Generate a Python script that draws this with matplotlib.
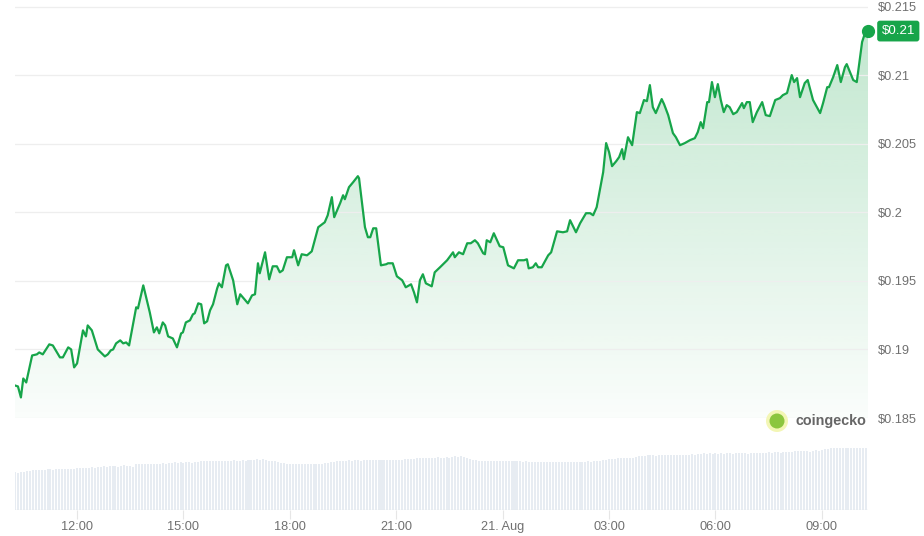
import numpy as np
import pandas as pd
import matplotlib
matplotlib.use("Agg")
import matplotlib.pyplot as plt
import matplotlib.dates as mdates
from matplotlib.patches import Ellipse

plt.rcParams['font.family'] = ['Liberation Sans', 'DejaVu Sans']

# ---------------- data ----------------
start_time = "2024-08-20 10:15"

price_minutes = [
    0, 5, 10, 14, 19, 29, 37, 41, 47, 58, 64, 76, 81, 90, 95, 100, 105, 115, 120, 123,
    130, 140, 152, 157, 162, 166, 171, 178, 183, 188, 193, 205, 208, 217, 223, 228, 235, 240, 244, 250,
    254, 259, 267, 274, 281, 284, 289, 296, 301, 304, 310, 315, 320, 325, 330, 335, 342, 345, 350, 357,
    360, 369, 376, 381, 394, 401, 406, 411, 414, 423, 430, 436, 443, 448, 453, 460, 469, 472, 479, 485,
    494, 502, 513, 524, 529, 536, 540, 550, 555, 558, 565, 572, 580, 582, 592, 597, 601, 606, 611, 619,
    628, 631, 639, 646, 655, 661, 670, 675, 680, 685, 690, 695, 705, 710, 719, 731, 741, 744, 751, 758,
    765, 771, 778, 783, 792, 795, 798, 804, 810, 820, 826, 834, 844, 851, 861, 866, 869, 876, 881, 885,
    891, 902, 907, 917, 927, 934, 939, 949, 956, 966, 973, 978, 984, 995, 1000, 1005, 1010, 1017, 1022, 1027,
    1030, 1037, 1044, 1052, 1057, 1064, 1069, 1074, 1079, 1084, 1094, 1098, 1105, 1113, 1118, 1125, 1133, 1142, 1150, 1155,
    1160, 1164, 1171, 1174, 1179, 1184, 1189, 1194, 1199, 1204, 1209, 1215, 1221, 1230, 1233, 1238, 1243, 1248, 1255, 1264,
    1270, 1277, 1286, 1294, 1299, 1306, 1314, 1318, 1323, 1328, 1336, 1341, 1350, 1362, 1367, 1374, 1377, 1384, 1391, 1397,
    1404, 1407, 1418, 1424, 1433, 1438, 1443,
]

prices = [
    0.18737, 0.18730, 0.18650, 0.18788, 0.18759, 0.18956, 0.18964, 0.18978, 0.18964, 0.19037,
    0.19029, 0.18942, 0.18942, 0.19015, 0.19000, 0.18869, 0.18898, 0.19139, 0.19095, 0.19175,
    0.19139, 0.19000, 0.18949, 0.18964, 0.18993, 0.19000, 0.19044, 0.19066, 0.19044, 0.19051,
    0.19029, 0.19307, 0.19299, 0.19467, 0.19358, 0.19270, 0.19124, 0.19161, 0.19117, 0.19197,
    0.19175, 0.19095, 0.19080, 0.19015, 0.19117, 0.19124, 0.19197, 0.19212, 0.19256, 0.19263,
    0.19336, 0.19329, 0.19190, 0.19205, 0.19285, 0.19329, 0.19445, 0.19482, 0.19453, 0.19613,
    0.19621, 0.19504, 0.19329, 0.19402, 0.19336, 0.19394, 0.19402, 0.19628, 0.19555, 0.19708,
    0.19511, 0.19606, 0.19606, 0.19562, 0.19577, 0.19672, 0.19672, 0.19723, 0.19613, 0.19694,
    0.19686, 0.19715, 0.19891, 0.19927, 0.19978, 0.20110, 0.19964, 0.20066, 0.20124, 0.20095,
    0.20183, 0.20219, 0.20263, 0.20248, 0.19891, 0.19818, 0.19818, 0.19883, 0.19883, 0.19613,
    0.19621, 0.19628, 0.19628, 0.19533, 0.19504, 0.19453, 0.19475, 0.19416, 0.19343, 0.19504,
    0.19548, 0.19482, 0.19460, 0.19562, 0.19599, 0.19650, 0.19708, 0.19672, 0.19708, 0.19694,
    0.19774, 0.19774, 0.19796, 0.19774, 0.19701, 0.19694, 0.19796, 0.19781, 0.19847, 0.19752,
    0.19745, 0.19613, 0.19591, 0.19650, 0.19650, 0.19657, 0.19591, 0.19599, 0.19628, 0.19599,
    0.19599, 0.19686, 0.19708, 0.19861, 0.19854, 0.19861, 0.19942, 0.19854, 0.19920, 0.19993,
    0.19993, 0.19978, 0.20037, 0.20292, 0.20504, 0.20438, 0.20336, 0.20372, 0.20402, 0.20460,
    0.20387, 0.20547, 0.20489, 0.20730, 0.20723, 0.20818, 0.20810, 0.20927, 0.20766, 0.20723,
    0.20825, 0.20788, 0.20708, 0.20577, 0.20547, 0.20489, 0.20504, 0.20526, 0.20540, 0.20584,
    0.20657, 0.20613, 0.20803, 0.20803, 0.20949, 0.20839, 0.20934, 0.20818, 0.20730, 0.20781,
    0.20766, 0.20715, 0.20730, 0.20796, 0.20759, 0.20803, 0.20803, 0.20657, 0.20730, 0.20803,
    0.20708, 0.20701, 0.20818, 0.20832, 0.20854, 0.20869, 0.21000, 0.20949, 0.20978, 0.20839,
    0.20942, 0.20964, 0.20818, 0.20723, 0.20796, 0.20912, 0.20912, 0.20985, 0.21073, 0.20949,
    0.21058, 0.21080, 0.20964, 0.20949, 0.21241, 0.21307, 0.21321,
]

# 5-minute volume bars (relative units)
volume_step_minutes = 5
volumes = [
    38, 37.5, 38, 38.5, 39,
    39.5, 40, 40, 40.5, 40, 40.5,
    41, 41, 40.5, 41, 41.5, 41, 41, 41.5, 41, 41.5,
    42, 42.5, 42, 42.5, 42, 43, 42.5,
    43, 43.5, 44, 43.5, 44, 44.5, 44, 43, 44.5, 45, 44.5, 44, 43,
    46, 46.5, 46, 46.5, 46, 46.5, 46.5, 46, 46.5, 47, 46.5,
    47.5, 47.5, 48, 47.5, 48, 47.5, 48, 48, 47.5, 48,
    48.5, 49, 49, 49.5, 49, 49.5, 49, 49.5, 49.5, 49, 49.5, 49.5, 50, 49.5, 49.5, 50, 49.5, 50, 50, 50.5,
    51, 50.5, 51.5,
    50, 49.5, 49, 49, 48.5,
    47, 47, 46.5, 46.5, 46.5, 46.5, 46.5, 46.5, 46, 46, 46, 46, 46, 46.5, 46.5, 47, 47.5, 48,
    48.5, 49, 49.5, 49, 49.5, 50, 49.5, 50, 50, 49.5, 50, 50, 50, 50.5, 50, 50, 50, 50.5, 50, 50,
    50.5, 50, 50.5, 50.5, 51, 51.5, 51, 51.5,
    52, 52, 52.5, 52, 52, 52.5, 52, 53, 52.5, 52.5, 53, 52.5, 53, 54, 53.5, 54, 53, 52, 51,
    50, 50, 49.5, 49.5, 49, 49.5, 49.5, 49, 49.5, 49, 49.5, 49, 49, 49, 49.5, 49, 49, 48.5, 49, 48.5, 48.5,
    48.5, 48, 48.5, 48, 48.5, 48, 48, 48.5, 48, 48.5, 48, 48, 48.5, 48.5, 48, 48.5, 48.5, 48.5, 49, 48.5, 49, 49,
    49.5, 50, 50.5, 51, 51.5, 51.5, 52, 52, 52, 52.5, 52, 52.5, 53,
    54, 54.5, 54.5, 55, 55, 55, 54.5, 55, 55, 55, 55.5, 55, 55, 55, 55.5, 55, 55.5, 55.5, 56, 55.5, 56, 56.5,
    57, 56.5, 57, 56, 57, 56.5, 57, 56.5, 57, 57, 56.5, 57, 57, 57.5, 57, 56.5, 57, 57, 57.5, 57.5,
    57, 57.5, 58, 57.5, 58, 58, 57.5, 58, 58.5, 58,
    58.5, 59, 59, 59.5, 59, 59, 58.5, 59.5, 60, 59.5, 60,
    61, 61.5, 62, 62, 62.5, 62, 62.5, 62.5, 62, 62.5, 62.5, 62.5, 62, 62.5, 62.5,
]

price_ticks = [0.185, 0.19, 0.195, 0.2, 0.205, 0.21, 0.215]
price_tick_labels = ["$0.185", "$0.19", "$0.195", "$0.2", "$0.205", "$0.21", "$0.215"]
time_ticks = ["2024-08-20 12:00", "2024-08-20 15:00", "2024-08-20 18:00", "2024-08-20 21:00",
              "2024-08-21 00:00", "2024-08-21 03:00", "2024-08-21 06:00", "2024-08-21 09:00"]
time_tick_labels = ["12:00", "15:00", "18:00", "21:00", "21. Aug", "03:00", "06:00", "09:00"]
last_price_label = "$0.21"
watermark = "coingecko"

# ---------------- styling ----------------
GREEN = "#17a54a"
GREEN_RGB = (0x17 / 255, 0xa5 / 255, 0x4a / 255)
TICK_COLOR = "#707070"
W, H = 924, 536

fig = plt.figure(figsize=(W / 100, H / 100), dpi=100)
fig.patch.set_facecolor("white")

ax = fig.add_axes([15 / W, 1 - 418 / H, 853 / W, 418 / H])
vax = fig.add_axes([15 / W, 1 - 510 / H, 853 / W, 80 / H])

t0 = pd.Timestamp(start_time)
pt = t0 + pd.to_timedelta(price_minutes, unit="m")
px = mdates.date2num(pt.to_pydatetime())
x0, x1 = px[0], px[-1]
ymin, ymax = 0.185, 0.215 + 6.5 / 68.5 * 0.005

# gradient fill under the line
n = 256
img = np.zeros((n, 1, 4))
img[..., 0], img[..., 1], img[..., 2] = GREEN_RGB
img[:, 0, 3] = np.linspace(0.28, 0.02, n)
im = ax.imshow(img, extent=[x0, x1, ymin, ymax], aspect="auto", origin="upper",
               zorder=1, interpolation="bilinear")
poly = ax.fill_between(px, prices, ymin, color="none", lw=0)
im.set_clip_path(poly.get_paths()[0], transform=ax.transData)

ax.plot(px, prices, color=GREEN, lw=1.6, zorder=3, solid_joinstyle="round")
ax.plot(px[-1], prices[-1], "o", ms=8.5, color=GREEN, clip_on=False, zorder=5)

ax.set_xlim(x0, x1)
ax.set_ylim(ymin, ymax)
ax.set_xticks([])
ax.yaxis.tick_right()
ax.set_yticks(price_ticks)
ax.set_yticklabels(price_tick_labels)
ax.tick_params(axis="y", length=0, pad=7, labelcolor=TICK_COLOR, labelsize=9.2)
ax.grid(axis="y", color="#eeeeee", lw=0.9, zorder=0)
for s in ax.spines.values():
    s.set_visible(False)
ax.set_facecolor("none")

ax.annotate(last_price_label, xy=(1, prices[-1]), xycoords=("axes fraction", "data"),
            xytext=(21.8, 0), textcoords="offset points", ha="center", va="center",
            color="white", fontsize=9.6,
            bbox=dict(boxstyle="round,pad=0.33,rounding_size=0.2", fc=GREEN, ec="none"),
            annotation_clip=False, zorder=6)

# volume bars
vt = t0 + pd.to_timedelta(np.arange(len(volumes)) * volume_step_minutes, unit="m")
vx = mdates.date2num(vt.to_pydatetime())
vax.bar(vx, volumes, width=3.4 / 1440, color="#e7ecf2", align="center", lw=0, zorder=2)
vax.axhline(0, color="#e4e7eb", lw=1, zorder=3)
vax.set_xlim(x0, x1)
vax.set_ylim(0, 80)
vax.set_yticks([])
tt = mdates.date2num(pd.to_datetime(time_ticks).to_pydatetime())
vax.set_xticks(tt)
vax.set_xticklabels(time_tick_labels)
vax.tick_params(axis="x", length=6.5, width=0.8, color="#e6e6e6", pad=1.5,
                labelcolor=TICK_COLOR, labelsize=9.2)
for s in vax.spines.values():
    s.set_visible(False)
vax.set_facecolor("none")

# watermark
fig.add_artist(Ellipse((777 / W, 1 - 421 / H), 22 / W, 22 / H, transform=fig.transFigure,
                       fc="#f3f6b5", ec="none", zorder=10))
fig.add_artist(Ellipse((777 / W, 1 - 421 / H), 15 / W, 15 / H, transform=fig.transFigure,
                       fc="#8cc63f", ec="none", zorder=11))
fig.text(795 / W, 1 - 421 / H, watermark, ha="left", va="center", fontsize=10.4,
         fontweight="bold", color="#666666", zorder=12)

fig.savefig("out.png", dpi=100, facecolor="white")
